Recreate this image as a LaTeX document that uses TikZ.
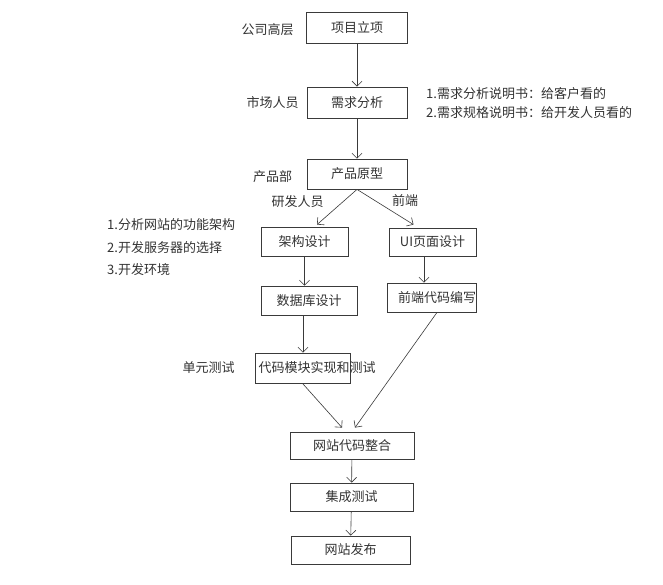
\documentclass[tikz,border=0pt]{standalone}
\usepackage{fontspec}
\setmainfont{Noto Sans CJK SC}
\usetikzlibrary{arrows.meta}
\definecolor{ink}{HTML}{333333}
\definecolor{edge}{HTML}{3A3A3A}
\begin{document}
\begin{tikzpicture}[x=1pt,y=-1pt,
  txt/.style={font=\fontsize{13}{15}\selectfont, text=ink, inner sep=0pt},
  box/.style n args={2}{draw=edge, line width=0.8pt, minimum width=#1pt, minimum height=#2pt, inner sep=0pt, txt},
  arr/.style={draw=edge, line width=0.6pt, -{Straight Barb[length=5pt,width=10pt]}}]
\fill[white] (0,0) rectangle (663,584);
\useasboundingbox (0,0) rectangle (663,584);
% boxes
\node[box={101}{31}] (n1) at (357,27.5) {项目立项};
\node[box={100}{31}] (n2) at (357,102.5) {需求分析};
\node[box={100}{30}] (n3) at (357,174) {产品原型};
\node[box={87}{29}] (n4) at (304.5,241.5) {架构设计};
\node[box={87}{28}] (n5) at (432.5,242) {UI页面设计};
\node[box={96}{29}] (n6) at (309,300.5) {数据库设计};
\node[box={89}{29}] (n7) at (431.5,297.5) {};
\node[txt] (n7t) at (437,297.5) {前端代码编写};
\node[box={95}{30}] (n8) at (302.5,368) {};
\node[txt] (n8t) at (317,368) {代码模块实现和测试};
\node[box={124}{27}] (n9) at (352,445.5) {网站代码整合};
\node[box={123}{28}] (n10) at (351.5,497) {集成测试};
\node[box={119}{28}] (n11) at (350.5,550) {网站发布};
% labels
\node[txt] (l1) at (267.5,30) {公司高层};
\node[txt] (l2) at (272.5,103) {市场人员};
\node[txt] (l3) at (272.5,177) {产品部};
\node[txt] (l4) at (297.5,202) {研发人员};
\node[txt] (l5) at (405,201) {前端};
\node[txt,anchor=west] (a1) at (107,225) {1.分析网站的功能架构};
\node[txt,anchor=west] (a2) at (107,248) {2.开发服务器的选择};
\node[txt,anchor=west] (a3) at (107,270) {3.开发环境};
\node[txt] (l6) at (208.5,368) {单元测试};
\node[txt,anchor=west] (b1) at (426,94) {1.需求分析说明书：给客户看的};
\node[txt,anchor=west] (b2) at (426,113) {2.需求规格说明书：给开发人员看的};
% arrows
\draw[arr] (n1) -- (n2);
\draw[arr] (n2) -- (n3);
\draw[arr] (n3.south) -- ([shift={(12.5,-2)}]n4.north);
\draw[arr] (n3.south) -- ([shift={(-19,-3)}]n5.north);
\draw[arr] (n4.south) -- (n4.south |- n6.north);
\draw[arr] ([xshift=-8.5]n5.south) -- ([xshift=-8.5]n5.south |- n7.north);
\draw[arr] ([xshift=-6]n6.south) -- ([xshift=-6]n6.south |- n8.north);
\draw[arr] (n8.south) -- ([shift={(-10,-4)}]n9.north);
\draw[arr] ([xshift=5.5]n7.south) -- ([shift={(3,-4)}]n9.north);
\draw[arr] (n9) -- (n10);
\draw[arr] (n10) -- (n11);
\end{tikzpicture}
\end{document}
